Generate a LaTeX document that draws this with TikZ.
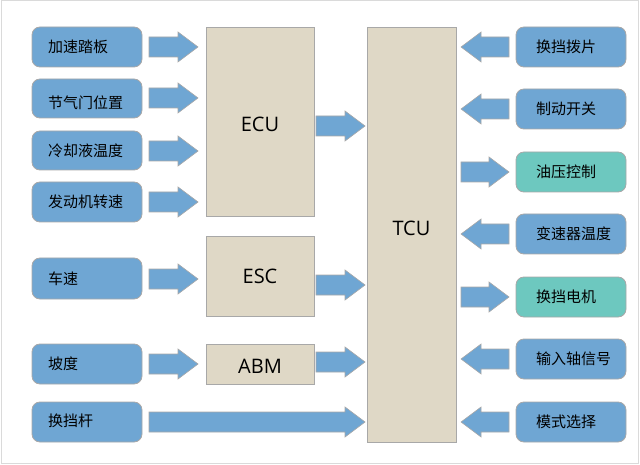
\documentclass[tikz,border=0pt]{standalone}
\usepackage{fontspec}
\setmainfont{Open Sans}
\newfontfamily\cjk{Noto Sans CJK SC}
\definecolor{bluebox}{HTML}{6FA6D3}
\definecolor{tealbox}{HTML}{6DC8BF}
\definecolor{beige}{HTML}{DFD8C6}
\definecolor{edgegray}{HTML}{A8A8A8}
\definecolor{framegray}{HTML}{DADADA}
\tikzset{
  inbox/.style={draw=edgegray, line width=0.8pt, fill=bluebox, rounded corners=8pt},
  outbox/.style={inbox, fill=tealbox},
  ctrl/.style={draw=edgegray, line width=0.8pt, fill=beige},
  arr/.style={draw=edgegray, line width=0.6pt, fill=bluebox},
  lbl/.style={anchor=west, font=\cjk\fontsize{15}{15}\selectfont, inner sep=0pt},
  big/.style={font=\fontsize{20}{20}\selectfont, inner sep=0pt}
}
% right-pointing block arrow: start x, tip x, centre y
\newcommand\rarr[3]{\draw[arr] (#1,{#3-10}) -- ({#2-20},{#3-10}) -- ({#2-20},{#3-15}) -- (#2,#3) -- ({#2-20},{#3+15}) -- ({#2-20},{#3+10}) -- (#1,{#3+10}) -- cycle;}
% left-pointing block arrow: tip x, end x, centre y
\newcommand\larr[3]{\draw[arr] (#2,{#3-10}) -- ({#1+20},{#3-10}) -- ({#1+20},{#3-15}) -- (#1,#3) -- ({#1+20},{#3+15}) -- ({#1+20},{#3+10}) -- (#2,{#3+10}) -- cycle;}
\begin{document}
\begin{tikzpicture}[x=1pt,y=-1pt]
\useasboundingbox (0,0) rectangle (640,465);
\draw[framegray, line width=1pt] (1,1) rectangle (638,463);

% left input boxes
\foreach \n/\ya/\yb/\t in {a/27/67/加速踏板, b/79/118/节气门位置, c/131/170/冷却液温度, d/182/222/发动机转速, e/258/299/车速, f/344/384/坡度, g/402/442/换挡杆}{
  \draw[inbox] (32,\ya) rectangle (142,\yb);
}
\node[lbl] (ta) at (48,47) {加速踏板};
\node[lbl] (tb) at (48,103) {节气门位置};
\node[lbl] (tc) at (48,151) {冷却液温度};
\node[lbl] (td) at (48,202) {发动机转速};
\node[lbl] (te) at (48,279) {车速};
\node[lbl] (tf) at (48,364) {坡度};
\node[lbl] (tg) at (48,421) {换挡杆};

% controllers
\draw[ctrl] (206,27) rectangle (314,216);
\draw[ctrl] (206,236) rectangle (314,316);
\draw[ctrl] (206,344) rectangle (314,384);
\draw[ctrl] (367,27) rectangle (456,442);
\node[big] (ecu) at (260,124) {ECU};
\node[big] (esc) at (260,276) {ESC};
\node[big] (abm) at (260,366) {ABM};
\node[big] (tcu) at (411.5,228) {TCU};

% right boxes
\draw[inbox] (516,27) rectangle (626,67);
\draw[inbox] (516,89) rectangle (626,129);
\draw[outbox] (516,152) rectangle (626,192);
\draw[inbox] (516,214) rectangle (626,254);
\draw[outbox] (516,277) rectangle (626,317);
\draw[inbox] (516,339) rectangle (626,379);
\draw[inbox] (516,402) rectangle (626,442);
\node[lbl] (r1) at (536,47) {换挡拨片};
\node[lbl] (r2) at (536,109) {制动开关};
\node[lbl] (r3) at (536,172) {油压控制};
\node[lbl] (r4) at (536,234) {变速器温度};
\node[lbl] (r5) at (536,297) {换挡电机};
\node[lbl] (r6) at (536,359) {输入轴信号};
\node[lbl] (r7) at (536,422) {模式选择};

% left arrows
\rarr{149}{198}{47}
\rarr{149}{198}{98}
\rarr{149}{198}{151}
\rarr{149}{198}{202}
\rarr{149}{198}{279}
\rarr{149}{198}{364}
\rarr{149}{365}{422}
% controller to TCU
\rarr{316}{365}{126}
\rarr{316}{365}{285}
\rarr{316}{365}{362}
% right side
\larr{461}{509}{47}
\larr{461}{509}{109}
\rarr{461}{509}{172}
\larr{461}{509}{234}
\rarr{461}{509}{297}
\larr{461}{509}{359}
\larr{461}{509}{422}
\end{tikzpicture}
\end{document}
